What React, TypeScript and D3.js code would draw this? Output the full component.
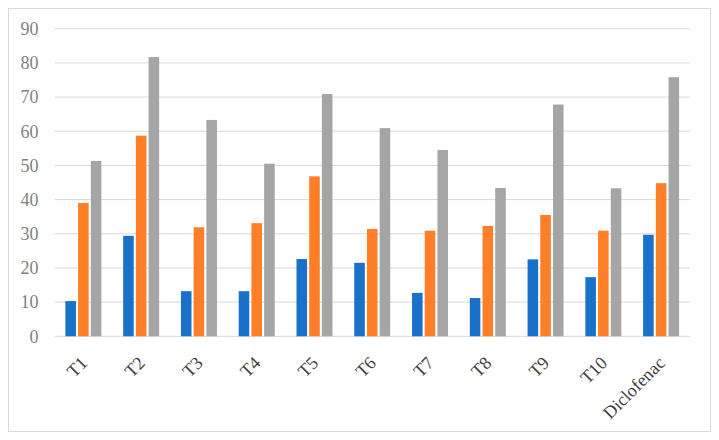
import React from 'react';
import * as d3 from 'd3';

const categories = ['T1', 'T2', 'T3', 'T4', 'T5', 'T6', 'T7', 'T8', 'T9', 'T10', 'Diclofenac'];
const seriesNames = ['s1', 's2', 's3'];
const series1 = [10.3, 29.4, 13.2, 13.2, 22.6, 21.5, 12.7, 11.2, 22.5, 17.3, 29.7];
const series2 = [39.0, 58.7, 31.9, 33.1, 46.8, 31.4, 30.9, 32.3, 35.5, 30.9, 44.8];
const series3 = [51.3, 81.7, 63.3, 50.5, 70.9, 60.9, 54.5, 43.4, 67.8, 43.3, 75.8];
const yTicks = [0, 10, 20, 30, 40, 50, 60, 70, 80, 90];
const colors = ['#1a71c9', '#fe7f27', '#a5a5a5'];

const W = 719;
const H = 440;
const plot = { left: 54.5, right: 690, top: 28.7, bottom: 336.3 };

const App: React.FC = () => {
  const values = [series1, series2, series3];

  const x0 = d3.scaleBand<string>()
    .domain(categories)
    .range([plot.left, plot.right]);

  const groupPad = 10.9;
  const x1 = d3.scaleBand<string>()
    .domain(seriesNames)
    .range([groupPad, x0.bandwidth() - groupPad])
    .paddingInner(0.17);

  const y = d3.scaleLinear()
    .domain([0, 90])
    .range([plot.bottom, plot.top]);

  const font = '"Liberation Serif", "Times New Roman", serif';

  return (
    <svg width={W} height={H} style={{ position: 'absolute', left: 0, top: 0 }}>
      <rect x={0} y={0} width={W} height={H} fill="#fff" />
      {/* chart frame */}
      <rect x={8.5} y={8.5} width={702} height={423} fill="none" stroke="#d9d9d9" strokeWidth={1} />

      {/* gridlines + y labels */}
      {yTicks.map(t => (
        <g key={t}>
          <line x1={plot.left} x2={plot.right} y1={y(t)} y2={y(t)} stroke="#d9d9d9" strokeWidth={1} />
          <text x={38.5} y={y(t)} dy="0.35em" textAnchor="end" fontFamily={font} fontSize={18} fill="#7f7f7f">
            {t}
          </text>
        </g>
      ))}

      {/* bars */}
      {categories.map((c, i) => (
        <g key={c} transform={`translate(${x0(c)},0)`}>
          {seriesNames.map((s, j) => (
            <rect
              key={s}
              x={x1(s)}
              y={y(values[j][i])}
              width={x1.bandwidth()}
              height={y(0) - y(values[j][i])}
              fill={colors[j]}
            />
          ))}
        </g>
      ))}

      {/* x labels */}
      {categories.map(c => {
        const cx = (x0(c) as number) + x0.bandwidth() / 2 - 4;
        const cy = plot.bottom + 19;
        return (
          <text
            key={c}
            transform={`translate(${cx},${cy}) rotate(-45)`}
            textAnchor="end"
            dy="0.7em"
            fontFamily={font}
            fontSize={18}
            fill="#404040"
          >
            {c}
          </text>
        );
      })}
    </svg>
  );
};

export default App;
